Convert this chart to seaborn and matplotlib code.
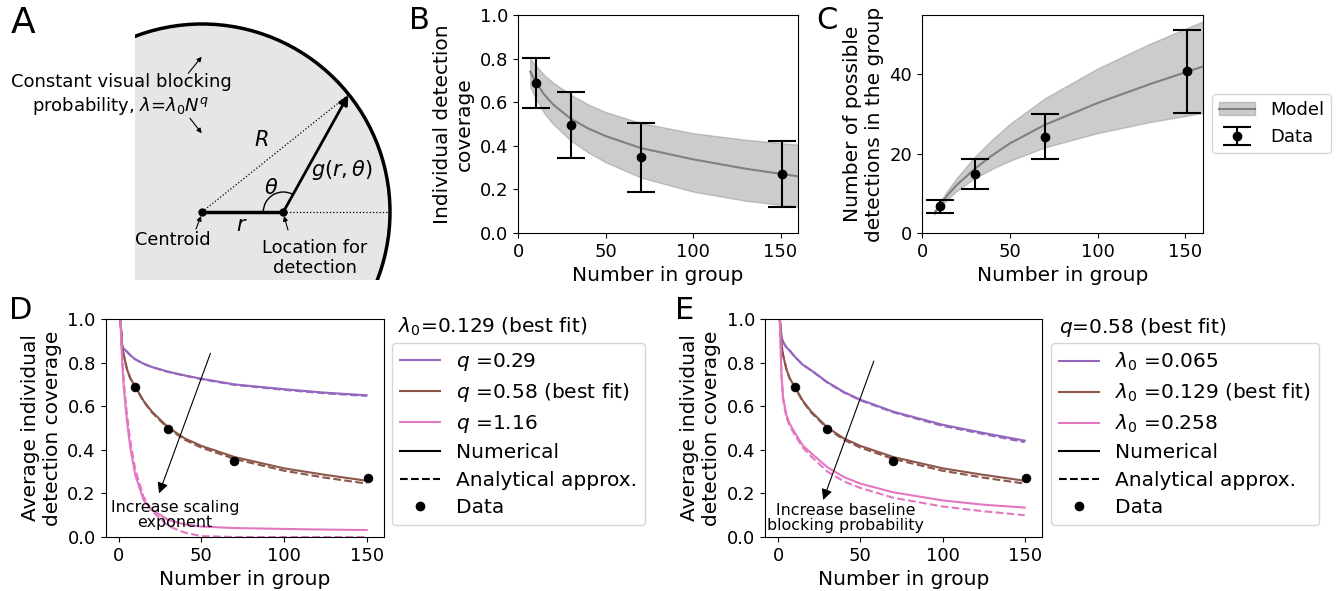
import pandas as pd
import seaborn as sns
import matplotlib.pyplot as plt
from matplotlib.patches import Circle, Rectangle, Arc
from matplotlib.lines import Line2D

W, H = 1338, 591

# observed group data (panels B-E)
group_sizes = [10, 30, 70, 151]
coverage_obs = [0.687, 0.496, 0.347, 0.269]
coverage_lo = [0.573, 0.344, 0.186, 0.118]
coverage_hi = [0.801, 0.649, 0.504, 0.420]
detections_obs = [6.7, 14.9, 24.3, 40.8]
detections_lo = [5.0, 11.1, 18.7, 30.4]
detections_hi = [8.4, 18.7, 30.0, 51.3]

# fitted model with uncertainty band (panels B, C)
model_n = [7, 10, 15, 20, 30, 40, 50, 70, 100, 130, 160]
coverage_model = [0.74, 0.695, 0.635, 0.59, 0.525, 0.48, 0.445, 0.39, 0.338, 0.295, 0.26]
coverage_model_lo = [0.67, 0.62, 0.55, 0.50, 0.425, 0.37, 0.325, 0.255, 0.19, 0.148, 0.12]
coverage_model_hi = [0.80, 0.77, 0.725, 0.69, 0.635, 0.59, 0.555, 0.505, 0.458, 0.428, 0.405]
detections_model = [5.0, 7.0, 9.8, 12.2, 16.2, 19.6, 22.6, 27.3, 32.8, 37.6, 42.0]
detections_model_lo = [4.7, 6.4, 8.7, 10.7, 13.8, 16.2, 18.2, 21.6, 25.2, 28.0, 30.3]
detections_model_hi = [5.4, 7.7, 11.0, 14.0, 19.2, 23.6, 27.5, 34.0, 41.5, 47.8, 53.4]

# average coverage curves (panels D, E)
curve_n = [1, 2, 3, 5, 7, 10, 15, 20, 30, 40, 50, 70, 100, 125, 150]
best_num = [1.0, 0.885, 0.835, 0.77, 0.728, 0.69, 0.625, 0.576, 0.502, 0.452, 0.418, 0.367, 0.315, 0.285, 0.258]
best_ana = [1.0, 0.885, 0.835, 0.77, 0.728, 0.688, 0.622, 0.572, 0.497, 0.446, 0.41, 0.358, 0.304, 0.272, 0.245]
q_low_num = [1.0, 0.873, 0.865, 0.85, 0.834, 0.815, 0.795, 0.78, 0.758, 0.741, 0.726, 0.70, 0.678, 0.662, 0.650]
q_low_ana = [1.0, 0.873, 0.865, 0.85, 0.834, 0.815, 0.795, 0.78, 0.757, 0.740, 0.724, 0.698, 0.675, 0.659, 0.647]
q_high_num = [1.0, 0.82, 0.69, 0.53, 0.41, 0.285, 0.17, 0.125, 0.078, 0.058, 0.048, 0.041, 0.037, 0.034, 0.032]
q_high_ana = [1.0, 0.84, 0.72, 0.56, 0.44, 0.31, 0.185, 0.12, 0.05, 0.02, 0.004, 0.0, 0.0, 0.0, 0.0]
lam_low_num = [1.0, 0.92, 0.895, 0.87, 0.855, 0.828, 0.79, 0.765, 0.71, 0.665, 0.63, 0.575, 0.515, 0.477, 0.442]
lam_low_ana = [1.0, 0.92, 0.895, 0.87, 0.855, 0.828, 0.79, 0.765, 0.708, 0.663, 0.627, 0.572, 0.51, 0.472, 0.435]
lam_high_num = [1.0, 0.75, 0.64, 0.56, 0.52, 0.48, 0.42, 0.385, 0.32, 0.275, 0.245, 0.205, 0.168, 0.148, 0.135]
lam_high_ana = [1.0, 0.74, 0.63, 0.55, 0.51, 0.47, 0.41, 0.37, 0.30, 0.255, 0.225, 0.18, 0.14, 0.118, 0.10]

q_labels = ["$q$ =0.29", "$q$ =0.58 (best fit)", "$q$ =1.16"]
lam_labels = ["$\\lambda_0$ =0.065", "$\\lambda_0$ =0.129 (best fit)", "$\\lambda_0$ =0.258"]
colors = ["#9467bd", "#8c564b", "#e377c2"]

NUM = "Numerical"
ANA = "Analytical approx."

LABEL_FS = 14.5
TICK_FS = 13

plt.rcParams["font.family"] = ["DejaVu Sans"]
plt.rcParams["mathtext.fontset"] = "dejavusans"

fig = plt.figure(figsize=(W / 100, H / 100), dpi=100)


def px_axes(x0, y0, x1, y1):
    return fig.add_axes([x0 / W, 1 - y1 / H, (x1 - x0) / W, (y1 - y0) / H])


def letter(x, y, s, size=22):
    fig.text(x / W, 1 - y / H, s, fontsize=size, ha="left", va="top")


# ---------------- Panel A: schematic ----------------
axA = px_axes(0, 0, 420, 290)
axA.set_xlim(0, 420)
axA.set_ylim(290, 0)
axA.axis("off")

cx, cy, rad = 202, 212, 188
loc_x = 283.3
edge_x, edge_y = 348.3, 95

clip = Rectangle((135, -10), 400, 290, transform=axA.transData)
disc = Circle((cx, cy), rad, facecolor="#e6e6e6", edgecolor="black", lw=2.5)
axA.add_patch(disc)
disc.set_clip_path(clip)

axA.plot([cx, edge_x], [cy, edge_y], ls=":", color="black", lw=0.9)
axA.plot([loc_x, cx + rad], [cy, cy], ls=":", color="black", lw=0.9)
axA.plot([cx, loc_x], [cy, cy], color="black", lw=2.5)
axA.annotate("", xy=(edge_x, edge_y), xytext=(loc_x, cy),
             arrowprops=dict(arrowstyle="-|>", color="black", lw=2,
                             mutation_scale=14, shrinkA=0, shrinkB=0))
axA.plot([cx, loc_x], [cy, cy], "o", color="black", ms=5)
axA.add_patch(Arc((loc_x, cy), 40, 40, theta1=180, theta2=299, color="black", lw=1))

axA.text(121, 95, "Constant visual blocking\nprobability, $\\lambda$=$\\lambda_0N^q$",
         fontsize=13, ha="center", va="center", linespacing=1.25)
small_arrow = dict(arrowstyle="-|>", color="black", lw=0.8, mutation_scale=7,
                   shrinkA=0, shrinkB=0)
axA.annotate("", xy=(201.7, 56.7), xytext=(188.3, 73.3), arrowprops=small_arrow)
axA.annotate("", xy=(201.7, 133.3), xytext=(190, 118.3), arrowprops=small_arrow)
axA.annotate("", xy=(201, 216), xytext=(196, 229), arrowprops=small_arrow)
axA.annotate("", xy=(284, 216), xytext=(288, 230), arrowprops=small_arrow)

axA.text(261.7, 140, "$R$", fontsize=15, ha="center", va="center")
axA.text(341.7, 170, "$g(r,\\theta)$", fontsize=15, ha="center", va="center")
axA.text(270.7, 188.3, "$\\theta$", fontsize=15, ha="center", va="center")
axA.text(241.7, 225, "$r$", fontsize=15, ha="center", va="center")
axA.text(172.7, 240, "Centroid", fontsize=12.8, ha="center", va="center")
axA.text(315, 258, "Location for\ndetection", fontsize=12.8, ha="center", va="center")

letter(11, 6, "A", size=26)


# ---------------- Panels B, C: model vs data ----------------
def model_panel(ax, model, lo, hi, obs, obs_lo, obs_hi):
    sns.lineplot(x=model_n, y=model, color="gray", lw=1.5, ax=ax)
    band = ax.fill_between(model_n, lo, hi, color="gray", alpha=0.4)
    yerr = [[o - l for o, l in zip(obs, obs_lo)], [h - o for o, h in zip(obs, obs_hi)]]
    eb = ax.errorbar(group_sizes, obs, yerr=yerr, fmt="o", color="black", ms=6,
                     capsize=10, elinewidth=1.5, capthick=1.5)
    ax.set_xlim(0, 160)
    ax.set_xticks([0, 50, 100, 150])
    ax.set_xlabel("Number in group", fontsize=LABEL_FS)
    ax.tick_params(labelsize=TICK_FS)
    return band, ax.lines[0], eb


axB = px_axes(518, 15, 798, 233)
model_panel(axB, coverage_model, coverage_model_lo, coverage_model_hi,
            coverage_obs, coverage_lo, coverage_hi)
axB.set_ylim(0, 1)
axB.set_yticks([0, 0.2, 0.4, 0.6, 0.8, 1.0])
axB.set_ylabel("Individual detection\ncoverage", fontsize=LABEL_FS)
letter(409, 6, "B")

axC = px_axes(922, 15, 1203, 233)
band, mline, eb = model_panel(axC, detections_model, detections_model_lo, detections_model_hi,
                              detections_obs, detections_lo, detections_hi)
axC.set_ylim(0, 55)
axC.set_yticks([0, 20, 40])
axC.set_ylabel("Number of possible\ndetections in the group", fontsize=LABEL_FS)
axC.legend([(band, mline), eb], ["Model", "Data"], loc="upper left",
           bbox_to_anchor=(1.032, 0.638), borderaxespad=0, fontsize=13)
letter(816, 6, "C")


# ---------------- Panels D, E: scaling curves ----------------
def curve_frame(labels, series):
    parts = []
    for lab, (num, ana) in zip(labels, series):
        parts.append(pd.DataFrame({"N": curve_n, "coverage": num, "param": lab, "method": NUM}))
        parts.append(pd.DataFrame({"N": curve_n, "coverage": ana, "param": lab, "method": ANA}))
    return pd.concat(parts, ignore_index=True)


def curve_panel(ax, labels, series, title, title_x, leg_x, note, note_xy, arrow_tail, arrow_head):
    df = curve_frame(labels, series)
    sns.lineplot(data=df, x="N", y="coverage", hue="param", style="method",
                 hue_order=labels, style_order=[NUM, ANA],
                 palette=dict(zip(labels, colors)),
                 dashes={NUM: "", ANA: (3.7, 1.6)},
                 estimator=None, sort=False, lw=1.5, legend=False, ax=ax)
    sns.scatterplot(x=group_sizes, y=coverage_obs, color="black", s=40,
                    edgecolor="black", zorder=3, ax=ax)
    ax.annotate("", xy=arrow_head, xytext=arrow_tail,
                arrowprops=dict(arrowstyle="-|>", color="black", lw=0.8,
                                mutation_scale=16, shrinkA=0, shrinkB=0))
    ax.text(note_xy[0], note_xy[1], note, fontsize=11.4, ha="center", va="center",
            linespacing=1.0)
    ax.set_xlim(-8, 160.5)
    ax.set_ylim(0, 1)
    ax.set_xticks([0, 50, 100, 150])
    ax.set_yticks([0, 0.2, 0.4, 0.6, 0.8, 1.0])
    ax.set_xlabel("Number in group", fontsize=LABEL_FS)
    ax.set_ylabel("Average individual\ndetection coverage", fontsize=LABEL_FS)
    ax.tick_params(labelsize=TICK_FS)

    handles = [Line2D([], [], color=c, lw=1.5) for c in colors]
    handles += [Line2D([], [], color="black", lw=1.5),
                Line2D([], [], color="black", lw=1.5, ls="--"),
                Line2D([], [], color="black", marker="o", ls="", ms=6)]
    ax.legend(handles, labels + [NUM, ANA, "Data"], loc="upper left",
              bbox_to_anchor=(leg_x, 0.89), borderaxespad=0, fontsize=LABEL_FS,
              labelspacing=0.42)
    ax.text(title_x, 0.963, title, transform=ax.transAxes, fontsize=LABEL_FS,
            ha="left", va="center")


axD = px_axes(105.5, 319, 384, 537)
curve_panel(axD, q_labels,
            [(q_low_num, q_low_ana), (best_num, best_ana), (q_high_num, q_high_ana)],
            "$\\lambda_0$=0.129 (best fit)", 1.05, 1.028,
            "Increase scaling\nexponent", (34, 0.10), (55.5, 0.843), (24.4, 0.20))
letter(9, 296, "D")

axE = px_axes(765, 319, 1042, 537)
curve_panel(axE, lam_labels,
            [(lam_low_num, lam_low_ana), (best_num, best_ana), (lam_high_num, lam_high_ana)],
            "$q$=0.58 (best fit)", 1.061, 1.031,
            "Increase baseline\nblocking probability", (41, 0.085), (58.2, 0.807), (27.4, 0.17))
letter(675, 296, "E")

fig.savefig("out.png", dpi=100)
